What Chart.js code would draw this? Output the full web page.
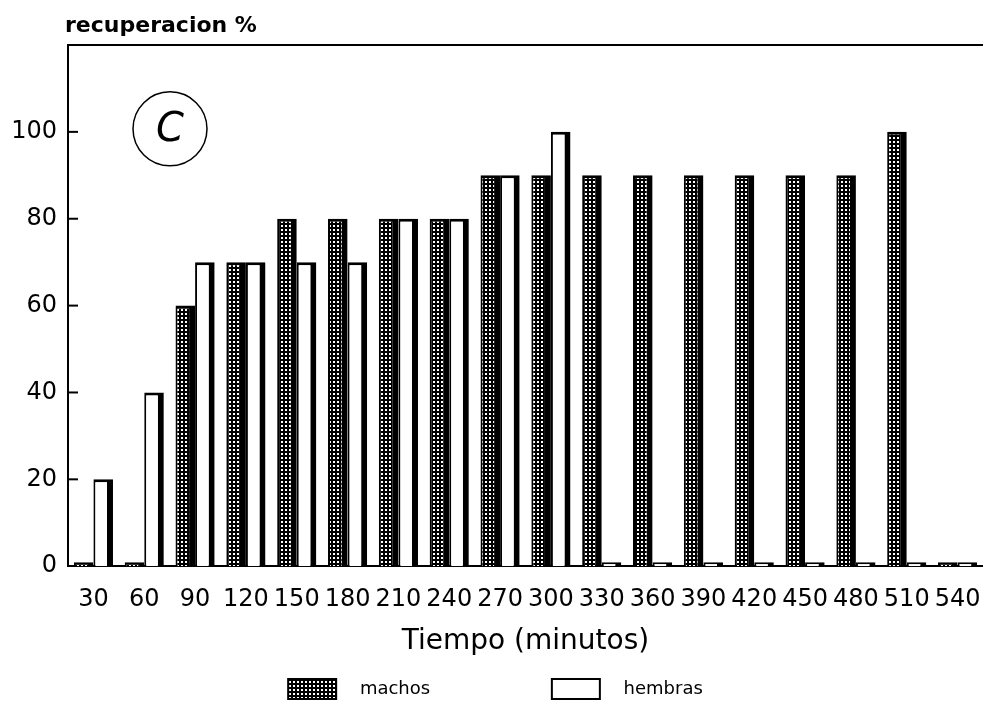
<!DOCTYPE html>
<html>
<head>
<meta charset="utf-8">
<script src="https://cdn.jsdelivr.net/npm/chart.js@4"></script>
<style>
  html, body { margin: 0; padding: 0; background: #fff; }
  #wrap { width: 983px; height: 710px; }
</style>
</head>
<body>
<div id="wrap"><canvas id="chart"></canvas></div>
<script>
// datos
const tiempos = ['30', '60', '90', '120', '150', '180', '210', '240', '270', '300', '330', '360', '390', '420', '450', '480', '510', '540'];
const machos  = [0, 0, 60, 70, 80, 80, 80, 80, 90, 90, 90, 90, 90, 90, 90, 90, 100, 0];
const hembras = [20, 40, 70, 70, 70, 70, 80, 80, 90, 100, 0, 0, 0, 0, 0, 0, 0, 0];
const yTicks  = [0, 20, 40, 60, 80, 100];

const FONT = "'DejaVu Sans', sans-serif";

// trama de puntos para los machos
const makeDots = () => {
    const c = document.createElement('canvas');
    c.width = 4; c.height = 4;
    const g = c.getContext('2d');
    g.fillStyle = '#000'; g.fillRect(0, 0, 4, 4);
    g.fillStyle = '#fff'; g.fillRect(1, 1, 2, 2);
    return g.createPattern(c, 'repeat');
};
const dots = makeDots();

// marco superior, ticks hacia dentro, titulo del eje y la C en circulo
const extras = {
    id: 'extras',
    afterDraw(chart) {
        const { ctx, chartArea } = chart;
        const y = chart.scales.y;
        ctx.save();
        ctx.strokeStyle = '#000';
        ctx.lineWidth = 2;
        ctx.beginPath();
        ctx.moveTo(chartArea.left, chartArea.top);
        ctx.lineTo(chartArea.right, chartArea.top);
        ctx.stroke();
        yTicks.forEach(v => {
            if (v === 0) return;
            const py = y.getPixelForValue(v);
            ctx.beginPath();
            ctx.moveTo(chartArea.left, py);
            ctx.lineTo(chartArea.left + 10, py);
            ctx.stroke();
        });
        ctx.fillStyle = '#000';
        ctx.font = 'bold 22px ' + FONT;
        ctx.textBaseline = 'alphabetic';
        ctx.fillText('recuperacion %', chartArea.left - 3, 32);
        const cx = chartArea.left + 102, cy = y.getPixelForValue(100) - 3;
        ctx.lineWidth = 1.5;
        ctx.beginPath();
        ctx.arc(cx, cy, 37, 0, Math.PI * 2);
        ctx.stroke();
        ctx.font = 'italic 40px ' + FONT;
        ctx.textAlign = 'center';
        ctx.textBaseline = 'middle';
        ctx.fillText('C', cx, cy + 2);
        ctx.restore();
    }
};

const barBorder = { top: 3, left: 2, right: 6, bottom: 0 };

new Chart(document.getElementById('chart'), {
    type: 'bar',
    data: {
        labels: tiempos,
        datasets: [
            {
                label: 'machos',
                data: machos,
                backgroundColor: dots,
                borderColor: '#000',
                borderWidth: barBorder,
                borderSkipped: false,
                minBarLength: 4
            },
            {
                label: 'hembras',
                data: hembras,
                backgroundColor: '#fff',
                borderColor: '#000',
                borderWidth: barBorder,
                borderSkipped: false,
                minBarLength: 4
            }
        ]
    },
    options: {
        responsive: true,
        maintainAspectRatio: false,
        animation: false,
        layout: { padding: { top: 45, left: 8, right: 0, bottom: 1 } },
        datasets: { bar: { categoryPercentage: 0.77, barPercentage: 1.0 } },
        scales: {
            x: {
                grid: { display: false, drawTicks: false },
                border: { display: true, color: '#000', width: 2 },
                ticks: {
                    color: '#000',
                    font: { family: FONT, size: 24 },
                    autoSkip: false,
                    maxRotation: 0,
                    padding: 19
                },
                title: {
                    display: true,
                    text: 'Tiempo (minutos)',
                    color: '#000',
                    font: { family: FONT, size: 28, lineHeight: 1.0 },
                    padding: { top: -5, bottom: 6 }
                },
                afterFit: s => { s.paddingLeft = 0; s.paddingRight = 0; }
            },
            y: {
                min: 0,
                max: 120,
                grid: { display: false, drawTicks: false },
                border: { display: true, color: '#000', width: 2 },
                ticks: {
                    stepSize: 20,
                    color: '#000',
                    font: { family: FONT, size: 24 },
                    padding: 11,
                    callback: v => (yTicks.includes(v) ? v : '')
                },
                afterFit: s => { s.width = 60; }
            }
        },
        plugins: {
            legend: {
                position: 'bottom',
                labels: {
                    color: '#000',
                    font: { family: FONT, size: 18 },
                    boxWidth: 48,
                    boxHeight: 20,
                    padding: 17,
                    generateLabels: chart => chart.data.datasets.map((ds, i) => ({
                        text: '\u2002 ' + ds.label + (i === 0 ? '\u2003\u2003\u2003\u2003\u2003\u2002 ' : ''),
                        fillStyle: ds.backgroundColor,
                        strokeStyle: '#000',
                        lineWidth: 2,
                        datasetIndex: i
                    }))
                }
            },
            tooltip: { enabled: false }
        }
    },
    plugins: [extras]
});
</script>
</body>
</html>
